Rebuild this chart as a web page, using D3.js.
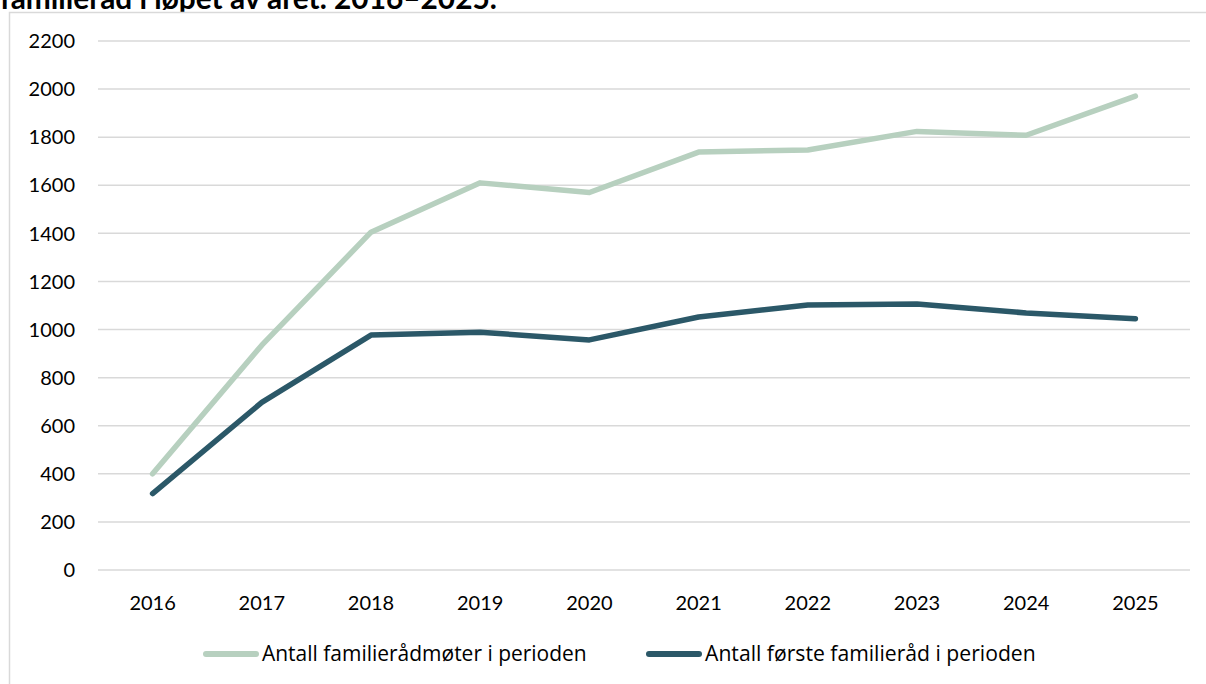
<!DOCTYPE html>
<html lang="no">
<head>
  <meta charset="UTF-8">
  <title>Familieråd 2016–2025</title>
  <style>
    *{ margin:0; padding:0; box-sizing:border-box }
    html, body { width:100%; height:100%; background:#fff; overflow:hidden }
    svg { position:absolute; top:0; left:0; font-family:Lato, "Open Sans", sans-serif }
    .grid line { stroke:#d9d9d9; stroke-width:1.5 }
    .tick-label { fill:#000; font-size:20px }
    .legend-label { fill:#000; font-family:"Open Sans", sans-serif; font-size:19px }
    .series { fill:none; stroke-width:5.5; stroke-linecap:round; stroke-linejoin:round }
  </style>
  <script src="https://cdn.jsdelivr.net/npm/d3@7/dist/d3.min.js"></script>
</head>
<body>
  <svg id="chart"></svg>
  <script>
    // data
    const years = ["2016","2017","2018","2019","2020","2021","2022","2023","2024","2025"];
    const moter = [400, 935, 1405, 1610, 1570, 1738, 1747, 1824, 1808, 1971];
    const forste = [318, 697, 977, 989, 957, 1052, 1102, 1106, 1069, 1045];
    const yTicks = [0, 200, 400, 600, 800, 1000, 1200, 1400, 1600, 1800, 2000, 2200];
    const seriesNames = ["Antall familierådmøter i perioden", "Antall første familieråd i perioden"];
    const seriesColors = ["#b7d0bf", "#2b5868"];
    const title = "familieråd i løpet av året. 2016–2025.";

    const W = 1206, H = 684;
    const svg = d3.select("#chart").attr("width", W).attr("height", H);

    // title, cut off at the top like in the source
    const t = svg.append("text")
      .attr("x", 0).attr("y", 9)
      .attr("font-size", 28).attr("font-weight", "bold")
      .text(title);
    // stretch font size so the title spans ~497px
    t.attr("font-size", 28 * 497 / t.node().getComputedTextLength());

    // chart frame
    svg.append("rect")
      .attr("x", 9.5).attr("y", 12.5)
      .attr("width", W + 20).attr("height", H + 20)
      .attr("fill", "#fff").attr("stroke", "#d9d9d9").attr("stroke-width", 1.5);

    const x = d3.scaleBand().domain(years).range([98, 1190]).padding(0);
    const y = d3.scaleLinear().domain([0, 2200]).range([570, 41]);

    // gridlines
    svg.append("g").attr("class", "grid")
      .selectAll("line").data(yTicks).join("line")
      .attr("x1", 98).attr("x2", 1190)
      .attr("y1", d => y(d)).attr("y2", d => y(d));

    // y labels
    svg.append("g").selectAll("text").data(yTicks).join("text")
      .attr("class", "tick-label")
      .attr("x", 75).attr("y", d => y(d)).attr("dy", "0.36em")
      .attr("text-anchor", "end")
      .text(d => d);

    // x labels
    svg.append("g").selectAll("text").data(years).join("text")
      .attr("class", "tick-label")
      .attr("x", d => x(d) + x.bandwidth() / 2).attr("y", 610)
      .attr("text-anchor", "middle")
      .text(d => d);

    const line = d3.line()
      .x((d, i) => x(years[i]) + x.bandwidth() / 2)
      .y(d => y(d));

    [moter, forste].forEach((s, i) => {
      svg.append("path").attr("class", "series")
        .attr("stroke", seriesColors[i])
        .attr("d", line(s));
    });

    // legend
    const legendX = [203, 646];
    const legendW = [325, 331];
    const lg = svg.append("g").selectAll("g").data(seriesNames).join("g")
      .attr("transform", (d, i) => `translate(${legendX[i]},654)`);
    lg.append("line")
      .attr("x1", 3).attr("x2", 53).attr("y1", 0).attr("y2", 0)
      .attr("stroke", (d, i) => seriesColors[i])
      .attr("stroke-width", 6).attr("stroke-linecap", "round");
    lg.append("text")
      .attr("class", "legend-label")
      .attr("x", 59).attr("y", 0).attr("dy", "0.32em")
      .text(d => d)
      .each(function(d, i) {
        const len = this.getComputedTextLength();
        d3.select(this).style("font-size", (19 * legendW[i] / len) + "px");
      });
  </script>
</body>
</html>
